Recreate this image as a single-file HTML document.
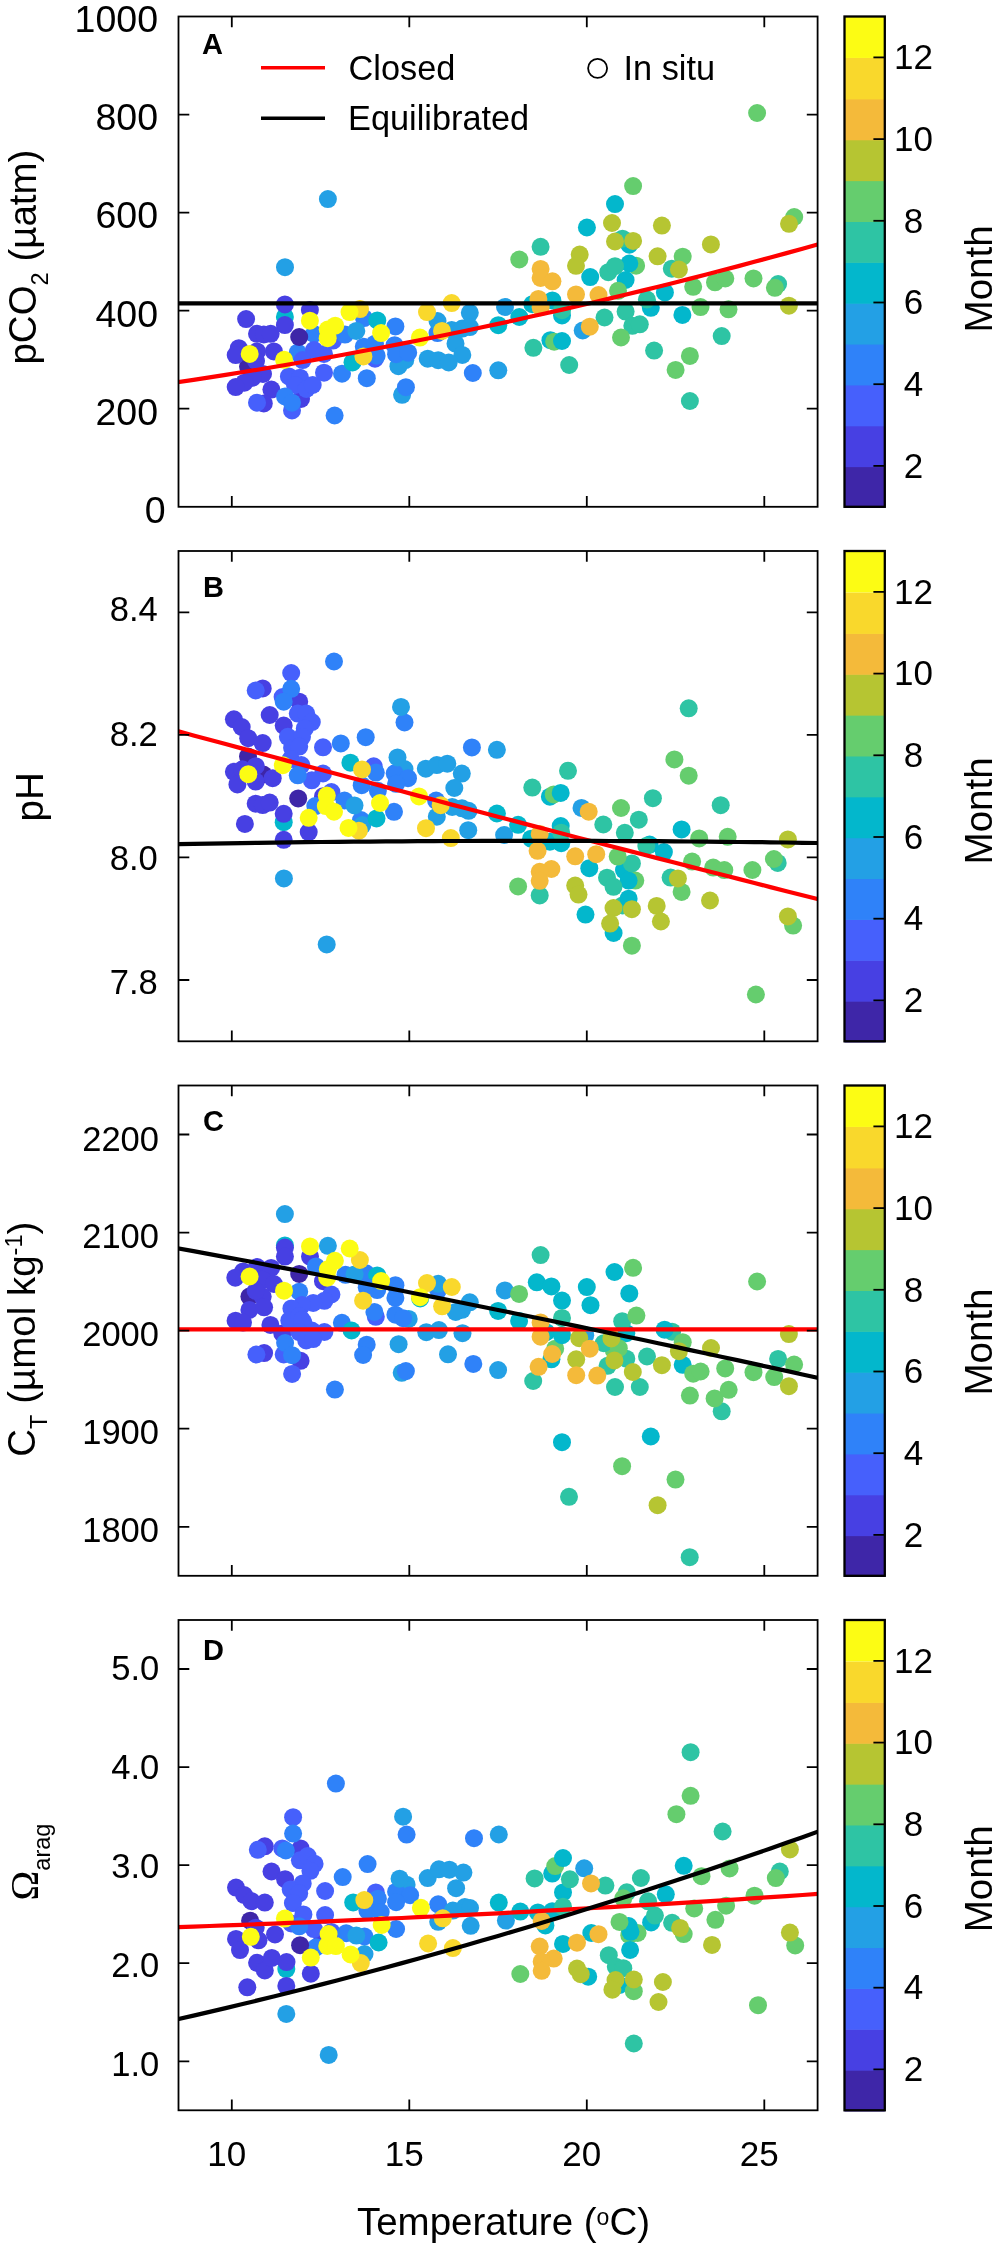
<!DOCTYPE html><html><head><meta charset="utf-8"><title>Figure</title><style>html,body{margin:0;padding:0;background:#fff}body{width:998px;height:2247px;overflow:hidden;font-family:"Liberation Sans",sans-serif}</style></head><body><svg width="998" height="2247" viewBox="0 0 998 2247" style="display:block;will-change:transform" font-family="Liberation Sans, sans-serif">
<rect width="998" height="2247" fill="#fff"/>
<g>
<clipPath id="cp0"><rect x="178.5" y="16.5" width="639.1" height="490.3"/></clipPath>
<circle cx="248.0" cy="366.5" r="9.0" fill="#3E26A8"/>
<circle cx="309.9" cy="310.0" r="9.0" fill="#4740E3"/>
<circle cx="333.0" cy="340.6" r="9.0" fill="#4660FC"/>
<circle cx="314.0" cy="334.0" r="9.0" fill="#2F82F9"/>
<circle cx="297.7" cy="352.6" r="9.0" fill="#2F82F9"/>
<circle cx="437.5" cy="333.1" r="9.0" fill="#2F82F9"/>
<circle cx="405.2" cy="360.2" r="9.0" fill="#23A0E5"/>
<circle cx="398.4" cy="366.2" r="9.0" fill="#23A0E5"/>
<circle cx="402.1" cy="394.8" r="9.0" fill="#23A0E5"/>
<circle cx="582.7" cy="330.5" r="9.0" fill="#23A0E5"/>
<circle cx="284.9" cy="316.9" r="9.0" fill="#03B7CC"/>
<circle cx="552.4" cy="300.4" r="9.0" fill="#03B7CC"/>
<circle cx="532.4" cy="304.2" r="9.0" fill="#03B7CC"/>
<circle cx="562.0" cy="315.4" r="9.0" fill="#03B7CC"/>
<circle cx="550.4" cy="340.2" r="9.0" fill="#03B7CC"/>
<circle cx="629.3" cy="244.7" r="9.0" fill="#03B7CC"/>
<circle cx="650.8" cy="307.8" r="9.0" fill="#03B7CC"/>
<circle cx="622.5" cy="238.7" r="9.0" fill="#2EC4A4"/>
<circle cx="671.8" cy="268.7" r="9.0" fill="#2EC4A4"/>
<circle cx="778.1" cy="284.0" r="9.0" fill="#2EC4A4"/>
<circle cx="636.1" cy="265.7" r="9.0" fill="#65CD6E"/>
<circle cx="794.2" cy="217.0" r="9.0" fill="#65CD6E"/>
<circle cx="299.2" cy="337.0" r="9.0" fill="#3E26A8"/>
<circle cx="284.9" cy="304.4" r="9.0" fill="#4740E3"/>
<circle cx="284.9" cy="325.1" r="9.0" fill="#4740E3"/>
<circle cx="246.1" cy="319.1" r="9.0" fill="#4740E3"/>
<circle cx="257.0" cy="333.8" r="9.0" fill="#4740E3"/>
<circle cx="263.8" cy="334.5" r="9.0" fill="#4740E3"/>
<circle cx="270.7" cy="333.8" r="9.0" fill="#4740E3"/>
<circle cx="238.8" cy="348.2" r="9.0" fill="#4740E3"/>
<circle cx="235.7" cy="355.1" r="9.0" fill="#4740E3"/>
<circle cx="257.0" cy="351.4" r="9.0" fill="#4740E3"/>
<circle cx="273.9" cy="351.4" r="9.0" fill="#4740E3"/>
<circle cx="256.0" cy="361.0" r="9.0" fill="#4740E3"/>
<circle cx="263.0" cy="374.0" r="9.0" fill="#4740E3"/>
<circle cx="252.6" cy="377.7" r="9.0" fill="#4740E3"/>
<circle cx="244.4" cy="382.7" r="9.0" fill="#4740E3"/>
<circle cx="235.7" cy="387.1" r="9.0" fill="#4740E3"/>
<circle cx="271.4" cy="389.6" r="9.0" fill="#4740E3"/>
<circle cx="263.8" cy="403.4" r="9.0" fill="#4740E3"/>
<circle cx="301.0" cy="399.0" r="9.0" fill="#4740E3"/>
<circle cx="314.0" cy="350.0" r="9.0" fill="#4660FC"/>
<circle cx="324.0" cy="353.9" r="9.0" fill="#4660FC"/>
<circle cx="302.7" cy="360.1" r="9.0" fill="#4660FC"/>
<circle cx="288.9" cy="376.4" r="9.0" fill="#4660FC"/>
<circle cx="300.0" cy="377.7" r="9.0" fill="#4660FC"/>
<circle cx="295.0" cy="385.0" r="9.0" fill="#4660FC"/>
<circle cx="306.4" cy="389.0" r="9.0" fill="#4660FC"/>
<circle cx="312.7" cy="385.0" r="9.0" fill="#4660FC"/>
<circle cx="324.0" cy="372.7" r="9.0" fill="#4660FC"/>
<circle cx="257.0" cy="402.7" r="9.0" fill="#4660FC"/>
<circle cx="292.0" cy="410.5" r="9.0" fill="#4660FC"/>
<circle cx="375.0" cy="358.7" r="9.0" fill="#4660FC"/>
<circle cx="285.0" cy="396.5" r="9.0" fill="#2F82F9"/>
<circle cx="292.0" cy="402.7" r="9.0" fill="#2F82F9"/>
<circle cx="334.6" cy="415.5" r="9.0" fill="#2F82F9"/>
<circle cx="345.0" cy="334.6" r="9.0" fill="#2F82F9"/>
<circle cx="364.0" cy="318.1" r="9.0" fill="#2F82F9"/>
<circle cx="395.4" cy="326.4" r="9.0" fill="#2F82F9"/>
<circle cx="363.8" cy="346.7" r="9.0" fill="#2F82F9"/>
<circle cx="375.0" cy="343.7" r="9.0" fill="#2F82F9"/>
<circle cx="376.6" cy="355.7" r="9.0" fill="#2F82F9"/>
<circle cx="394.6" cy="345.2" r="9.0" fill="#2F82F9"/>
<circle cx="396.1" cy="354.2" r="9.0" fill="#2F82F9"/>
<circle cx="408.2" cy="352.7" r="9.0" fill="#2F82F9"/>
<circle cx="342.0" cy="373.7" r="9.0" fill="#2F82F9"/>
<circle cx="366.8" cy="378.2" r="9.0" fill="#2F82F9"/>
<circle cx="405.9" cy="387.2" r="9.0" fill="#2F82F9"/>
<circle cx="472.8" cy="373.0" r="9.0" fill="#2F82F9"/>
<circle cx="327.9" cy="199.1" r="9.0" fill="#23A0E5"/>
<circle cx="285.0" cy="267.2" r="9.0" fill="#23A0E5"/>
<circle cx="356.3" cy="330.9" r="9.0" fill="#23A0E5"/>
<circle cx="437.5" cy="321.1" r="9.0" fill="#23A0E5"/>
<circle cx="469.8" cy="312.8" r="9.0" fill="#23A0E5"/>
<circle cx="451.7" cy="330.1" r="9.0" fill="#23A0E5"/>
<circle cx="462.3" cy="328.6" r="9.0" fill="#23A0E5"/>
<circle cx="469.8" cy="327.1" r="9.0" fill="#23A0E5"/>
<circle cx="455.5" cy="343.7" r="9.0" fill="#23A0E5"/>
<circle cx="462.3" cy="354.9" r="9.0" fill="#23A0E5"/>
<circle cx="427.7" cy="358.7" r="9.0" fill="#23A0E5"/>
<circle cx="438.2" cy="360.2" r="9.0" fill="#23A0E5"/>
<circle cx="448.7" cy="362.4" r="9.0" fill="#23A0E5"/>
<circle cx="505.0" cy="306.9" r="9.0" fill="#23A0E5"/>
<circle cx="498.3" cy="370.3" r="9.0" fill="#23A0E5"/>
<circle cx="377.3" cy="320.4" r="9.0" fill="#03B7CC"/>
<circle cx="352.5" cy="362.4" r="9.0" fill="#03B7CC"/>
<circle cx="586.9" cy="227.5" r="9.0" fill="#03B7CC"/>
<circle cx="590.2" cy="277.1" r="9.0" fill="#03B7CC"/>
<circle cx="519.3" cy="317.0" r="9.0" fill="#03B7CC"/>
<circle cx="498.3" cy="325.2" r="9.0" fill="#03B7CC"/>
<circle cx="615.0" cy="204.1" r="9.0" fill="#03B7CC"/>
<circle cx="629.3" cy="263.5" r="9.0" fill="#03B7CC"/>
<circle cx="625.6" cy="280.0" r="9.0" fill="#03B7CC"/>
<circle cx="664.9" cy="292.4" r="9.0" fill="#03B7CC"/>
<circle cx="682.4" cy="314.9" r="9.0" fill="#03B7CC"/>
<circle cx="540.6" cy="246.8" r="9.0" fill="#2EC4A4"/>
<circle cx="608.3" cy="272.2" r="9.0" fill="#2EC4A4"/>
<circle cx="615.0" cy="266.2" r="9.0" fill="#2EC4A4"/>
<circle cx="562.0" cy="310.2" r="9.0" fill="#2EC4A4"/>
<circle cx="604.5" cy="317.5" r="9.0" fill="#2EC4A4"/>
<circle cx="533.4" cy="347.8" r="9.0" fill="#2EC4A4"/>
<circle cx="569.2" cy="365.0" r="9.0" fill="#2EC4A4"/>
<circle cx="646.9" cy="299.5" r="9.0" fill="#2EC4A4"/>
<circle cx="625.6" cy="311.6" r="9.0" fill="#2EC4A4"/>
<circle cx="632.3" cy="325.8" r="9.0" fill="#2EC4A4"/>
<circle cx="639.8" cy="324.3" r="9.0" fill="#2EC4A4"/>
<circle cx="654.1" cy="350.6" r="9.0" fill="#2EC4A4"/>
<circle cx="721.7" cy="336.1" r="9.0" fill="#2EC4A4"/>
<circle cx="689.9" cy="401.0" r="9.0" fill="#2EC4A4"/>
<circle cx="519.3" cy="259.5" r="9.0" fill="#65CD6E"/>
<circle cx="618.0" cy="290.8" r="9.0" fill="#65CD6E"/>
<circle cx="621.0" cy="337.5" r="9.0" fill="#65CD6E"/>
<circle cx="554.2" cy="341.7" r="9.0" fill="#65CD6E"/>
<circle cx="633.1" cy="186.1" r="9.0" fill="#65CD6E"/>
<circle cx="682.7" cy="256.7" r="9.0" fill="#65CD6E"/>
<circle cx="693.2" cy="286.8" r="9.0" fill="#65CD6E"/>
<circle cx="715.0" cy="282.3" r="9.0" fill="#65CD6E"/>
<circle cx="725.3" cy="278.5" r="9.0" fill="#65CD6E"/>
<circle cx="753.5" cy="278.4" r="9.0" fill="#65CD6E"/>
<circle cx="700.5" cy="307.1" r="9.0" fill="#65CD6E"/>
<circle cx="728.5" cy="309.3" r="9.0" fill="#65CD6E"/>
<circle cx="689.9" cy="355.9" r="9.0" fill="#65CD6E"/>
<circle cx="675.6" cy="369.9" r="9.0" fill="#65CD6E"/>
<circle cx="757.1" cy="113.0" r="9.0" fill="#65CD6E"/>
<circle cx="774.9" cy="287.8" r="9.0" fill="#65CD6E"/>
<circle cx="612.0" cy="223.0" r="9.0" fill="#B6C532"/>
<circle cx="615.0" cy="241.5" r="9.0" fill="#B6C532"/>
<circle cx="579.7" cy="254.6" r="9.0" fill="#B6C532"/>
<circle cx="576.0" cy="265.8" r="9.0" fill="#B6C532"/>
<circle cx="661.9" cy="225.6" r="9.0" fill="#B6C532"/>
<circle cx="633.1" cy="240.9" r="9.0" fill="#B6C532"/>
<circle cx="710.9" cy="244.4" r="9.0" fill="#B6C532"/>
<circle cx="657.6" cy="256.3" r="9.0" fill="#B6C532"/>
<circle cx="678.9" cy="269.5" r="9.0" fill="#B6C532"/>
<circle cx="789.0" cy="223.8" r="9.0" fill="#B6C532"/>
<circle cx="788.9" cy="305.7" r="9.0" fill="#B6C532"/>
<circle cx="540.6" cy="268.9" r="9.0" fill="#F4BA3A"/>
<circle cx="540.6" cy="277.9" r="9.0" fill="#F4BA3A"/>
<circle cx="552.4" cy="281.3" r="9.0" fill="#F4BA3A"/>
<circle cx="576.0" cy="294.4" r="9.0" fill="#F4BA3A"/>
<circle cx="598.5" cy="295.0" r="9.0" fill="#F4BA3A"/>
<circle cx="538.4" cy="298.9" r="9.0" fill="#F4BA3A"/>
<circle cx="540.6" cy="307.2" r="9.0" fill="#F4BA3A"/>
<circle cx="589.8" cy="326.7" r="9.0" fill="#F4BA3A"/>
<circle cx="360.0" cy="309.1" r="9.0" fill="#F9D82C"/>
<circle cx="363.4" cy="356.4" r="9.0" fill="#F9D82C"/>
<circle cx="427.0" cy="312.1" r="9.0" fill="#F9D82C"/>
<circle cx="451.7" cy="303.1" r="9.0" fill="#F9D82C"/>
<circle cx="442.0" cy="330.9" r="9.0" fill="#F9D82C"/>
<circle cx="309.9" cy="320.7" r="9.0" fill="#FCFC14"/>
<circle cx="327.7" cy="329.5" r="9.0" fill="#FCFC14"/>
<circle cx="335.2" cy="325.7" r="9.0" fill="#FCFC14"/>
<circle cx="327.7" cy="338.2" r="9.0" fill="#FCFC14"/>
<circle cx="249.7" cy="353.9" r="9.0" fill="#FCFC14"/>
<circle cx="284.1" cy="359.8" r="9.0" fill="#FCFC14"/>
<circle cx="349.5" cy="312.1" r="9.0" fill="#FCFC14"/>
<circle cx="381.1" cy="333.1" r="9.0" fill="#FCFC14"/>
<circle cx="419.9" cy="337.6" r="9.0" fill="#FCFC14"/>
<circle cx="562.0" cy="341.0" r="9.0" fill="#03B7CC"/>
<path d="M177.5 382.3 L193.5 379.9 L209.6 377.4 L225.6 374.9 L241.6 372.3 L257.6 369.7 L273.6 367.0 L289.7 364.2 L305.7 361.5 L321.7 358.6 L337.8 355.7 L353.8 352.8 L369.8 349.8 L385.8 346.7 L401.9 343.6 L417.9 340.5 L433.9 337.2 L449.9 334.0 L465.9 330.7 L482.0 327.3 L498.0 323.9 L514.0 320.4 L530.0 316.8 L546.1 313.3 L562.1 309.6 L578.1 305.9 L594.1 302.2 L610.2 298.4 L626.2 294.5 L642.2 290.6 L658.2 286.7 L674.3 282.7 L690.3 278.6 L706.3 274.5 L722.4 270.3 L738.4 266.1 L754.4 261.8 L770.4 257.5 L786.5 253.1 L802.5 248.7 L818.5 244.2" fill="none" stroke="#f00" stroke-width="4.2" clip-path="url(#cp0)"/>
<path d="M177.5 303.4 L818.5 303.4" fill="none" stroke="#000" stroke-width="4.2" clip-path="url(#cp0)"/>
<rect x="178.5" y="16.5" width="639.1" height="490.3" fill="none" stroke="#000" stroke-width="1.8"/>
<path d="M231.8 16.5 v10.8 M231.8 506.8 v-10.8" stroke="#000" stroke-width="1.8"/>
<path d="M409.3 16.5 v10.8 M409.3 506.8 v-10.8" stroke="#000" stroke-width="1.8"/>
<path d="M586.8 16.5 v10.8 M586.8 506.8 v-10.8" stroke="#000" stroke-width="1.8"/>
<path d="M764.3 16.5 v10.8 M764.3 506.8 v-10.8" stroke="#000" stroke-width="1.8"/>
<text x="165.6" y="522.6" font-size="37.5" text-anchor="end">0</text>
<path d="M178.5 408.7 h10.8 M817.6 408.7 h-10.8" stroke="#000" stroke-width="1.8"/>
<text x="158" y="424.5" font-size="37.5" text-anchor="end">200</text>
<path d="M178.5 310.7 h10.8 M817.6 310.7 h-10.8" stroke="#000" stroke-width="1.8"/>
<text x="158" y="326.5" font-size="37.5" text-anchor="end">400</text>
<path d="M178.5 212.6 h10.8 M817.6 212.6 h-10.8" stroke="#000" stroke-width="1.8"/>
<text x="158" y="228.4" font-size="37.5" text-anchor="end">600</text>
<path d="M178.5 114.6 h10.8 M817.6 114.6 h-10.8" stroke="#000" stroke-width="1.8"/>
<text x="158" y="130.3" font-size="37.5" text-anchor="end">800</text>
<text x="158" y="32.3" font-size="37.5" text-anchor="end">1000</text>
<text x="202" y="53.7" font-size="29" font-weight="bold">A</text>
<rect x="844.5" y="466.54" width="40.299999999999955" height="41.46" fill="#3E26A8"/>
<rect x="844.5" y="425.68" width="40.299999999999955" height="41.46" fill="#4740E3"/>
<rect x="844.5" y="384.83" width="40.299999999999955" height="41.46" fill="#4660FC"/>
<rect x="844.5" y="343.97" width="40.299999999999955" height="41.46" fill="#2F82F9"/>
<rect x="844.5" y="303.11" width="40.299999999999955" height="41.46" fill="#23A0E5"/>
<rect x="844.5" y="262.25" width="40.299999999999955" height="41.46" fill="#03B7CC"/>
<rect x="844.5" y="221.39" width="40.299999999999955" height="41.46" fill="#2EC4A4"/>
<rect x="844.5" y="180.53" width="40.299999999999955" height="41.46" fill="#65CD6E"/>
<rect x="844.5" y="139.67" width="40.299999999999955" height="41.46" fill="#B6C532"/>
<rect x="844.5" y="98.82" width="40.299999999999955" height="41.46" fill="#F4BA3A"/>
<rect x="844.5" y="57.96" width="40.299999999999955" height="41.46" fill="#F9D82C"/>
<rect x="844.5" y="16.50" width="40.299999999999955" height="41.46" fill="#FCFC14"/>
<rect x="844.5" y="16.5" width="40.299999999999955" height="490.3" fill="none" stroke="#000" stroke-width="2.3"/>
<path d="M884.8 465.9 h-11.4" stroke="#000" stroke-width="1.8"/>
<text x="913.5" y="477.6" font-size="35" text-anchor="middle">2</text>
<path d="M884.8 384.2 h-11.4" stroke="#000" stroke-width="1.8"/>
<text x="913.5" y="395.9" font-size="35" text-anchor="middle">4</text>
<path d="M884.8 302.5 h-11.4" stroke="#000" stroke-width="1.8"/>
<text x="913.5" y="314.2" font-size="35" text-anchor="middle">6</text>
<path d="M884.8 220.8 h-11.4" stroke="#000" stroke-width="1.8"/>
<text x="913.5" y="232.5" font-size="35" text-anchor="middle">8</text>
<path d="M884.8 139.1 h-11.4" stroke="#000" stroke-width="1.8"/>
<text x="913.5" y="150.8" font-size="35" text-anchor="middle">10</text>
<path d="M884.8 57.4 h-11.4" stroke="#000" stroke-width="1.8"/>
<text x="913.5" y="69.1" font-size="35" text-anchor="middle">12</text>
<text transform="translate(991.7,278.9) rotate(-90)" font-size="38.5" text-anchor="middle">Month</text>
</g>
<g>
<clipPath id="cp1"><rect x="178.5" y="551.0" width="639.1" height="490.3"/></clipPath>
<circle cx="263.4" cy="774.5" r="9.0" fill="#3E26A8"/>
<circle cx="262.7" cy="688.4" r="9.0" fill="#4740E3"/>
<circle cx="299.2" cy="701.7" r="9.0" fill="#4740E3"/>
<circle cx="323.0" cy="796.3" r="9.0" fill="#4740E3"/>
<circle cx="282.6" cy="697.0" r="9.0" fill="#4660FC"/>
<circle cx="331.4" cy="792.1" r="9.0" fill="#4660FC"/>
<circle cx="373.7" cy="766.3" r="9.0" fill="#4660FC"/>
<circle cx="315.3" cy="806.1" r="9.0" fill="#2F82F9"/>
<circle cx="436.1" cy="800.6" r="9.0" fill="#2F82F9"/>
<circle cx="404.5" cy="769.1" r="9.0" fill="#23A0E5"/>
<circle cx="436.8" cy="816.7" r="9.0" fill="#23A0E5"/>
<circle cx="581.5" cy="807.9" r="9.0" fill="#23A0E5"/>
<circle cx="283.7" cy="822.2" r="9.0" fill="#03B7CC"/>
<circle cx="549.9" cy="796.7" r="9.0" fill="#03B7CC"/>
<circle cx="560.7" cy="826.0" r="9.0" fill="#03B7CC"/>
<circle cx="549.9" cy="841.7" r="9.0" fill="#03B7CC"/>
<circle cx="531.1" cy="838.7" r="9.0" fill="#03B7CC"/>
<circle cx="561.2" cy="843.2" r="9.0" fill="#03B7CC"/>
<circle cx="613.6" cy="933.0" r="9.0" fill="#03B7CC"/>
<circle cx="649.6" cy="844.6" r="9.0" fill="#03B7CC"/>
<circle cx="624.0" cy="870.1" r="9.0" fill="#03B7CC"/>
<circle cx="670.6" cy="877.6" r="9.0" fill="#2EC4A4"/>
<circle cx="622.5" cy="905.4" r="9.0" fill="#2EC4A4"/>
<circle cx="777.7" cy="862.9" r="9.0" fill="#2EC4A4"/>
<circle cx="635.3" cy="880.6" r="9.0" fill="#65CD6E"/>
<circle cx="793.1" cy="925.6" r="9.0" fill="#65CD6E"/>
<circle cx="248.0" cy="756.4" r="9.0" fill="#3E26A8"/>
<circle cx="298.2" cy="798.4" r="9.0" fill="#3E26A8"/>
<circle cx="269.7" cy="715.0" r="9.0" fill="#4740E3"/>
<circle cx="283.7" cy="725.6" r="9.0" fill="#4740E3"/>
<circle cx="233.9" cy="719.3" r="9.0" fill="#4740E3"/>
<circle cx="241.7" cy="727.0" r="9.0" fill="#4740E3"/>
<circle cx="248.2" cy="738.2" r="9.0" fill="#4740E3"/>
<circle cx="262.7" cy="743.1" r="9.0" fill="#4740E3"/>
<circle cx="255.7" cy="766.2" r="9.0" fill="#4740E3"/>
<circle cx="233.9" cy="771.8" r="9.0" fill="#4740E3"/>
<circle cx="242.4" cy="769.3" r="9.0" fill="#4740E3"/>
<circle cx="272.7" cy="778.2" r="9.0" fill="#4740E3"/>
<circle cx="237.4" cy="784.4" r="9.0" fill="#4740E3"/>
<circle cx="255.7" cy="781.6" r="9.0" fill="#4740E3"/>
<circle cx="255.7" cy="803.7" r="9.0" fill="#4740E3"/>
<circle cx="262.7" cy="805.1" r="9.0" fill="#4740E3"/>
<circle cx="269.7" cy="802.6" r="9.0" fill="#4740E3"/>
<circle cx="283.7" cy="813.8" r="9.0" fill="#4740E3"/>
<circle cx="244.9" cy="823.9" r="9.0" fill="#4740E3"/>
<circle cx="283.7" cy="839.8" r="9.0" fill="#4740E3"/>
<circle cx="308.7" cy="832.1" r="9.0" fill="#4740E3"/>
<circle cx="291.2" cy="673.0" r="9.0" fill="#4660FC"/>
<circle cx="255.7" cy="690.5" r="9.0" fill="#4660FC"/>
<circle cx="297.8" cy="713.6" r="9.0" fill="#4660FC"/>
<circle cx="306.2" cy="713.6" r="9.0" fill="#4660FC"/>
<circle cx="311.8" cy="722.1" r="9.0" fill="#4660FC"/>
<circle cx="304.8" cy="728.4" r="9.0" fill="#4660FC"/>
<circle cx="287.9" cy="736.8" r="9.0" fill="#4660FC"/>
<circle cx="302.0" cy="736.8" r="9.0" fill="#4660FC"/>
<circle cx="292.1" cy="748.0" r="9.0" fill="#4660FC"/>
<circle cx="299.2" cy="746.6" r="9.0" fill="#4660FC"/>
<circle cx="323.0" cy="747.3" r="9.0" fill="#4660FC"/>
<circle cx="290.7" cy="759.2" r="9.0" fill="#4660FC"/>
<circle cx="301.3" cy="765.1" r="9.0" fill="#4660FC"/>
<circle cx="323.0" cy="773.5" r="9.0" fill="#4660FC"/>
<circle cx="311.8" cy="780.3" r="9.0" fill="#4660FC"/>
<circle cx="334.0" cy="661.5" r="9.0" fill="#2F82F9"/>
<circle cx="291.2" cy="688.8" r="9.0" fill="#2F82F9"/>
<circle cx="283.7" cy="701.7" r="9.0" fill="#2F82F9"/>
<circle cx="340.8" cy="743.4" r="9.0" fill="#2F82F9"/>
<circle cx="297.8" cy="775.3" r="9.0" fill="#2F82F9"/>
<circle cx="344.5" cy="800.5" r="9.0" fill="#2F82F9"/>
<circle cx="404.5" cy="722.4" r="9.0" fill="#2F82F9"/>
<circle cx="365.7" cy="737.2" r="9.0" fill="#2F82F9"/>
<circle cx="471.9" cy="747.4" r="9.0" fill="#2F82F9"/>
<circle cx="375.8" cy="772.6" r="9.0" fill="#2F82F9"/>
<circle cx="394.7" cy="773.3" r="9.0" fill="#2F82F9"/>
<circle cx="408.0" cy="778.2" r="9.0" fill="#2F82F9"/>
<circle cx="396.1" cy="783.8" r="9.0" fill="#2F82F9"/>
<circle cx="361.7" cy="785.2" r="9.0" fill="#2F82F9"/>
<circle cx="377.9" cy="790.8" r="9.0" fill="#2F82F9"/>
<circle cx="394.0" cy="811.8" r="9.0" fill="#2F82F9"/>
<circle cx="361.0" cy="820.0" r="9.0" fill="#2F82F9"/>
<circle cx="354.5" cy="805.4" r="9.0" fill="#23A0E5"/>
<circle cx="283.9" cy="878.4" r="9.0" fill="#23A0E5"/>
<circle cx="326.7" cy="944.4" r="9.0" fill="#23A0E5"/>
<circle cx="401.0" cy="706.9" r="9.0" fill="#23A0E5"/>
<circle cx="397.5" cy="757.4" r="9.0" fill="#23A0E5"/>
<circle cx="425.8" cy="768.7" r="9.0" fill="#23A0E5"/>
<circle cx="436.8" cy="765.1" r="9.0" fill="#23A0E5"/>
<circle cx="447.3" cy="763.7" r="9.0" fill="#23A0E5"/>
<circle cx="461.8" cy="773.6" r="9.0" fill="#23A0E5"/>
<circle cx="454.3" cy="788.0" r="9.0" fill="#23A0E5"/>
<circle cx="452.2" cy="806.9" r="9.0" fill="#23A0E5"/>
<circle cx="462.0" cy="808.3" r="9.0" fill="#23A0E5"/>
<circle cx="468.6" cy="810.8" r="9.0" fill="#23A0E5"/>
<circle cx="362.4" cy="825.1" r="9.0" fill="#23A0E5"/>
<circle cx="468.2" cy="830.2" r="9.0" fill="#23A0E5"/>
<circle cx="496.9" cy="749.8" r="9.0" fill="#23A0E5"/>
<circle cx="504.1" cy="835.0" r="9.0" fill="#23A0E5"/>
<circle cx="350.4" cy="762.7" r="9.0" fill="#03B7CC"/>
<circle cx="376.5" cy="818.4" r="9.0" fill="#03B7CC"/>
<circle cx="496.9" cy="813.5" r="9.0" fill="#03B7CC"/>
<circle cx="518.1" cy="824.8" r="9.0" fill="#03B7CC"/>
<circle cx="589.3" cy="868.2" r="9.0" fill="#03B7CC"/>
<circle cx="585.5" cy="914.6" r="9.0" fill="#03B7CC"/>
<circle cx="681.6" cy="829.4" r="9.0" fill="#03B7CC"/>
<circle cx="663.9" cy="852.1" r="9.0" fill="#03B7CC"/>
<circle cx="628.6" cy="880.6" r="9.0" fill="#03B7CC"/>
<circle cx="628.6" cy="898.7" r="9.0" fill="#03B7CC"/>
<circle cx="568.0" cy="770.8" r="9.0" fill="#2EC4A4"/>
<circle cx="532.3" cy="787.6" r="9.0" fill="#2EC4A4"/>
<circle cx="603.3" cy="824.5" r="9.0" fill="#2EC4A4"/>
<circle cx="561.2" cy="832.7" r="9.0" fill="#2EC4A4"/>
<circle cx="539.7" cy="895.4" r="9.0" fill="#2EC4A4"/>
<circle cx="607.0" cy="877.7" r="9.0" fill="#2EC4A4"/>
<circle cx="613.5" cy="886.8" r="9.0" fill="#2EC4A4"/>
<circle cx="688.7" cy="708.3" r="9.0" fill="#2EC4A4"/>
<circle cx="652.9" cy="798.2" r="9.0" fill="#2EC4A4"/>
<circle cx="720.7" cy="805.2" r="9.0" fill="#2EC4A4"/>
<circle cx="638.8" cy="819.7" r="9.0" fill="#2EC4A4"/>
<circle cx="624.8" cy="832.8" r="9.0" fill="#2EC4A4"/>
<circle cx="646.3" cy="846.1" r="9.0" fill="#2EC4A4"/>
<circle cx="631.9" cy="863.4" r="9.0" fill="#2EC4A4"/>
<circle cx="553.7" cy="794.4" r="9.0" fill="#65CD6E"/>
<circle cx="518.1" cy="886.4" r="9.0" fill="#65CD6E"/>
<circle cx="674.4" cy="759.4" r="9.0" fill="#65CD6E"/>
<circle cx="688.7" cy="775.7" r="9.0" fill="#65CD6E"/>
<circle cx="621.0" cy="808.0" r="9.0" fill="#65CD6E"/>
<circle cx="699.2" cy="838.4" r="9.0" fill="#65CD6E"/>
<circle cx="727.7" cy="836.8" r="9.0" fill="#65CD6E"/>
<circle cx="617.7" cy="856.6" r="9.0" fill="#65CD6E"/>
<circle cx="692.1" cy="861.6" r="9.0" fill="#65CD6E"/>
<circle cx="713.2" cy="867.6" r="9.0" fill="#65CD6E"/>
<circle cx="724.3" cy="870.1" r="9.0" fill="#65CD6E"/>
<circle cx="752.4" cy="870.0" r="9.0" fill="#65CD6E"/>
<circle cx="681.6" cy="891.9" r="9.0" fill="#65CD6E"/>
<circle cx="631.9" cy="945.7" r="9.0" fill="#65CD6E"/>
<circle cx="773.9" cy="859.0" r="9.0" fill="#65CD6E"/>
<circle cx="755.9" cy="994.5" r="9.0" fill="#65CD6E"/>
<circle cx="575.2" cy="885.6" r="9.0" fill="#B6C532"/>
<circle cx="578.5" cy="894.6" r="9.0" fill="#B6C532"/>
<circle cx="613.5" cy="908.0" r="9.0" fill="#B6C532"/>
<circle cx="610.1" cy="923.6" r="9.0" fill="#B6C532"/>
<circle cx="677.9" cy="878.4" r="9.0" fill="#B6C532"/>
<circle cx="710.0" cy="900.5" r="9.0" fill="#B6C532"/>
<circle cx="631.9" cy="909.2" r="9.0" fill="#B6C532"/>
<circle cx="656.7" cy="905.9" r="9.0" fill="#B6C532"/>
<circle cx="660.9" cy="921.5" r="9.0" fill="#B6C532"/>
<circle cx="787.9" cy="839.4" r="9.0" fill="#B6C532"/>
<circle cx="787.9" cy="916.4" r="9.0" fill="#B6C532"/>
<circle cx="588.7" cy="811.7" r="9.0" fill="#F4BA3A"/>
<circle cx="539.7" cy="833.9" r="9.0" fill="#F4BA3A"/>
<circle cx="537.6" cy="850.8" r="9.0" fill="#F4BA3A"/>
<circle cx="575.2" cy="856.3" r="9.0" fill="#F4BA3A"/>
<circle cx="596.2" cy="854.2" r="9.0" fill="#F4BA3A"/>
<circle cx="551.4" cy="869.0" r="9.0" fill="#F4BA3A"/>
<circle cx="539.7" cy="871.8" r="9.0" fill="#F4BA3A"/>
<circle cx="539.7" cy="880.8" r="9.0" fill="#F4BA3A"/>
<circle cx="362.0" cy="769.4" r="9.0" fill="#F9D82C"/>
<circle cx="440.7" cy="805.2" r="9.0" fill="#F9D82C"/>
<circle cx="358.9" cy="830.7" r="9.0" fill="#F9D82C"/>
<circle cx="426.0" cy="828.2" r="9.0" fill="#F9D82C"/>
<circle cx="450.8" cy="838.1" r="9.0" fill="#F9D82C"/>
<circle cx="248.3" cy="774.2" r="9.0" fill="#FCFC14"/>
<circle cx="282.8" cy="765.2" r="9.0" fill="#FCFC14"/>
<circle cx="308.7" cy="817.8" r="9.0" fill="#FCFC14"/>
<circle cx="326.8" cy="795.6" r="9.0" fill="#FCFC14"/>
<circle cx="325.8" cy="806.1" r="9.0" fill="#FCFC14"/>
<circle cx="334.0" cy="811.7" r="9.0" fill="#FCFC14"/>
<circle cx="348.5" cy="827.9" r="9.0" fill="#FCFC14"/>
<circle cx="419.0" cy="796.4" r="9.0" fill="#FCFC14"/>
<circle cx="380.0" cy="803.0" r="9.0" fill="#FCFC14"/>
<circle cx="560.7" cy="792.9" r="9.0" fill="#03B7CC"/>
<path d="M177.5 731.0 L193.5 735.4 L209.6 739.7 L225.6 744.1 L241.6 748.4 L257.6 752.7 L273.6 757.0 L289.7 761.4 L305.7 765.7 L321.7 770.0 L337.8 774.3 L353.8 778.5 L369.8 782.8 L385.8 787.1 L401.9 791.3 L417.9 795.6 L433.9 799.8 L449.9 804.1 L465.9 808.3 L482.0 812.5 L498.0 816.7 L514.0 820.9 L530.0 825.1 L546.1 829.3 L562.1 833.5 L578.1 837.7 L594.1 841.8 L610.2 846.0 L626.2 850.1 L642.2 854.3 L658.2 858.4 L674.3 862.5 L690.3 866.6 L706.3 870.7 L722.4 874.8 L738.4 878.9 L754.4 883.0 L770.4 887.1 L786.5 891.2 L802.5 895.2 L818.5 899.3" fill="none" stroke="#f00" stroke-width="4.2" clip-path="url(#cp1)"/>
<path d="M177.5 844.2 L193.5 843.9 L209.6 843.7 L225.6 843.4 L241.6 843.1 L257.6 842.9 L273.6 842.7 L289.7 842.4 L305.7 842.2 L321.7 842.0 L337.8 841.9 L353.8 841.7 L369.8 841.6 L385.8 841.4 L401.9 841.3 L417.9 841.2 L433.9 841.1 L449.9 841.0 L465.9 841.0 L482.0 840.9 L498.0 840.9 L514.0 840.8 L530.0 840.8 L546.1 840.8 L562.1 840.9 L578.1 840.9 L594.1 840.9 L610.2 841.0 L626.2 841.1 L642.2 841.1 L658.2 841.2 L674.3 841.4 L690.3 841.5 L706.3 841.6 L722.4 841.8 L738.4 842.0 L754.4 842.1 L770.4 842.3 L786.5 842.5 L802.5 842.8 L818.5 843.0" fill="none" stroke="#000" stroke-width="4.2" clip-path="url(#cp1)"/>
<rect x="178.5" y="551.0" width="639.1" height="490.3" fill="none" stroke="#000" stroke-width="1.8"/>
<path d="M231.8 551.0 v10.8 M231.8 1041.3 v-10.8" stroke="#000" stroke-width="1.8"/>
<path d="M409.3 551.0 v10.8 M409.3 1041.3 v-10.8" stroke="#000" stroke-width="1.8"/>
<path d="M586.8 551.0 v10.8 M586.8 1041.3 v-10.8" stroke="#000" stroke-width="1.8"/>
<path d="M764.3 551.0 v10.8 M764.3 1041.3 v-10.8" stroke="#000" stroke-width="1.8"/>
<path d="M178.5 980.0 h10.8 M817.6 980.0 h-10.8" stroke="#000" stroke-width="1.8"/>
<text x="157.8" y="993.7" font-size="34.6" text-anchor="end">7.8</text>
<path d="M178.5 857.4 h10.8 M817.6 857.4 h-10.8" stroke="#000" stroke-width="1.8"/>
<text x="157.8" y="869.6" font-size="34.6" text-anchor="end">8.0</text>
<path d="M178.5 734.9 h10.8 M817.6 734.9 h-10.8" stroke="#000" stroke-width="1.8"/>
<text x="157.8" y="745.5" font-size="34.6" text-anchor="end">8.2</text>
<path d="M178.5 612.3 h10.8 M817.6 612.3 h-10.8" stroke="#000" stroke-width="1.8"/>
<text x="157.8" y="621.3" font-size="34.6" text-anchor="end">8.4</text>
<text x="203" y="596.6" font-size="29" font-weight="bold">B</text>
<rect x="844.5" y="1001.04" width="40.299999999999955" height="41.46" fill="#3E26A8"/>
<rect x="844.5" y="960.18" width="40.299999999999955" height="41.46" fill="#4740E3"/>
<rect x="844.5" y="919.32" width="40.299999999999955" height="41.46" fill="#4660FC"/>
<rect x="844.5" y="878.47" width="40.299999999999955" height="41.46" fill="#2F82F9"/>
<rect x="844.5" y="837.61" width="40.299999999999955" height="41.46" fill="#23A0E5"/>
<rect x="844.5" y="796.75" width="40.299999999999955" height="41.46" fill="#03B7CC"/>
<rect x="844.5" y="755.89" width="40.299999999999955" height="41.46" fill="#2EC4A4"/>
<rect x="844.5" y="715.03" width="40.299999999999955" height="41.46" fill="#65CD6E"/>
<rect x="844.5" y="674.17" width="40.299999999999955" height="41.46" fill="#B6C532"/>
<rect x="844.5" y="633.32" width="40.299999999999955" height="41.46" fill="#F4BA3A"/>
<rect x="844.5" y="592.46" width="40.299999999999955" height="41.46" fill="#F9D82C"/>
<rect x="844.5" y="551.00" width="40.299999999999955" height="41.46" fill="#FCFC14"/>
<rect x="844.5" y="551.0" width="40.299999999999955" height="490.3" fill="none" stroke="#000" stroke-width="2.3"/>
<path d="M884.8 1000.4 h-11.4" stroke="#000" stroke-width="1.8"/>
<text x="913.5" y="1012.1" font-size="35" text-anchor="middle">2</text>
<path d="M884.8 918.7 h-11.4" stroke="#000" stroke-width="1.8"/>
<text x="913.5" y="930.4" font-size="35" text-anchor="middle">4</text>
<path d="M884.8 837.0 h-11.4" stroke="#000" stroke-width="1.8"/>
<text x="913.5" y="848.7" font-size="35" text-anchor="middle">6</text>
<path d="M884.8 755.3 h-11.4" stroke="#000" stroke-width="1.8"/>
<text x="913.5" y="767.0" font-size="35" text-anchor="middle">8</text>
<path d="M884.8 673.6 h-11.4" stroke="#000" stroke-width="1.8"/>
<text x="913.5" y="685.3" font-size="35" text-anchor="middle">10</text>
<path d="M884.8 591.9 h-11.4" stroke="#000" stroke-width="1.8"/>
<text x="913.5" y="603.6" font-size="35" text-anchor="middle">12</text>
<text transform="translate(991.7,810.9) rotate(-90)" font-size="38.5" text-anchor="middle">Month</text>
</g>
<g>
<clipPath id="cp2"><rect x="178.5" y="1085.5" width="639.1" height="490.3"/></clipPath>
<circle cx="265.8" cy="1278.7" r="9.0" fill="#3E26A8"/>
<circle cx="310.0" cy="1256.6" r="9.0" fill="#4740E3"/>
<circle cx="323.0" cy="1281.2" r="9.0" fill="#4740E3"/>
<circle cx="282.3" cy="1333.5" r="9.0" fill="#4740E3"/>
<circle cx="300.6" cy="1360.8" r="9.0" fill="#4740E3"/>
<circle cx="264.1" cy="1353.1" r="9.0" fill="#4740E3"/>
<circle cx="283.7" cy="1354.5" r="9.0" fill="#4660FC"/>
<circle cx="375.8" cy="1316.8" r="9.0" fill="#4660FC"/>
<circle cx="316.0" cy="1266.4" r="9.0" fill="#2F82F9"/>
<circle cx="299.2" cy="1291.7" r="9.0" fill="#2F82F9"/>
<circle cx="366.0" cy="1273.3" r="9.0" fill="#2F82F9"/>
<circle cx="438.2" cy="1290.1" r="9.0" fill="#2F82F9"/>
<circle cx="408.7" cy="1318.9" r="9.0" fill="#23A0E5"/>
<circle cx="438.2" cy="1283.8" r="9.0" fill="#23A0E5"/>
<circle cx="401.7" cy="1372.8" r="9.0" fill="#23A0E5"/>
<circle cx="585.2" cy="1335.2" r="9.0" fill="#23A0E5"/>
<circle cx="284.9" cy="1245.4" r="9.0" fill="#03B7CC"/>
<circle cx="377.2" cy="1275.4" r="9.0" fill="#03B7CC"/>
<circle cx="420.2" cy="1298.4" r="9.0" fill="#03B7CC"/>
<circle cx="546.2" cy="1332.2" r="9.0" fill="#03B7CC"/>
<circle cx="551.4" cy="1359.3" r="9.0" fill="#03B7CC"/>
<circle cx="626.3" cy="1333.2" r="9.0" fill="#03B7CC"/>
<circle cx="682.7" cy="1364.8" r="9.0" fill="#03B7CC"/>
<circle cx="607.6" cy="1365.8" r="9.0" fill="#2EC4A4"/>
<circle cx="672.1" cy="1331.7" r="9.0" fill="#2EC4A4"/>
<circle cx="721.7" cy="1411.3" r="9.0" fill="#2EC4A4"/>
<circle cx="555.2" cy="1348.7" r="9.0" fill="#65CD6E"/>
<circle cx="613.8" cy="1350.2" r="9.0" fill="#65CD6E"/>
<circle cx="299.2" cy="1273.9" r="9.0" fill="#3E26A8"/>
<circle cx="249.4" cy="1296.6" r="9.0" fill="#3E26A8"/>
<circle cx="284.9" cy="1247.5" r="9.0" fill="#4740E3"/>
<circle cx="284.9" cy="1256.6" r="9.0" fill="#4740E3"/>
<circle cx="257.1" cy="1267.1" r="9.0" fill="#4740E3"/>
<circle cx="271.1" cy="1267.9" r="9.0" fill="#4740E3"/>
<circle cx="243.1" cy="1271.4" r="9.0" fill="#4740E3"/>
<circle cx="235.3" cy="1277.7" r="9.0" fill="#4740E3"/>
<circle cx="262.7" cy="1279.8" r="9.0" fill="#4740E3"/>
<circle cx="273.9" cy="1284.0" r="9.0" fill="#4740E3"/>
<circle cx="262.7" cy="1296.6" r="9.0" fill="#4740E3"/>
<circle cx="255.7" cy="1291.0" r="9.0" fill="#4740E3"/>
<circle cx="249.4" cy="1309.9" r="9.0" fill="#4740E3"/>
<circle cx="264.1" cy="1307.3" r="9.0" fill="#4740E3"/>
<circle cx="235.6" cy="1320.7" r="9.0" fill="#4740E3"/>
<circle cx="243.0" cy="1322.6" r="9.0" fill="#4740E3"/>
<circle cx="270.4" cy="1324.9" r="9.0" fill="#4740E3"/>
<circle cx="331.4" cy="1294.5" r="9.0" fill="#4660FC"/>
<circle cx="324.4" cy="1300.8" r="9.0" fill="#4660FC"/>
<circle cx="313.2" cy="1302.9" r="9.0" fill="#4660FC"/>
<circle cx="302.0" cy="1305.0" r="9.0" fill="#4660FC"/>
<circle cx="291.4" cy="1308.4" r="9.0" fill="#4660FC"/>
<circle cx="289.3" cy="1320.4" r="9.0" fill="#4660FC"/>
<circle cx="299.2" cy="1316.2" r="9.0" fill="#4660FC"/>
<circle cx="303.4" cy="1322.6" r="9.0" fill="#4660FC"/>
<circle cx="311.8" cy="1330.5" r="9.0" fill="#4660FC"/>
<circle cx="324.4" cy="1332.0" r="9.0" fill="#4660FC"/>
<circle cx="302.0" cy="1320.2" r="9.0" fill="#4660FC"/>
<circle cx="299.2" cy="1332.1" r="9.0" fill="#4660FC"/>
<circle cx="306.2" cy="1340.5" r="9.0" fill="#4660FC"/>
<circle cx="313.2" cy="1339.1" r="9.0" fill="#4660FC"/>
<circle cx="292.1" cy="1373.9" r="9.0" fill="#4660FC"/>
<circle cx="256.4" cy="1354.5" r="9.0" fill="#4660FC"/>
<circle cx="345.5" cy="1274.8" r="9.0" fill="#2F82F9"/>
<circle cx="341.9" cy="1322.8" r="9.0" fill="#2F82F9"/>
<circle cx="285.1" cy="1343.0" r="9.0" fill="#2F82F9"/>
<circle cx="292.1" cy="1355.2" r="9.0" fill="#2F82F9"/>
<circle cx="334.9" cy="1389.6" r="9.0" fill="#2F82F9"/>
<circle cx="395.4" cy="1285.2" r="9.0" fill="#2F82F9"/>
<circle cx="366.7" cy="1287.3" r="9.0" fill="#2F82F9"/>
<circle cx="377.2" cy="1290.1" r="9.0" fill="#2F82F9"/>
<circle cx="395.4" cy="1297.9" r="9.0" fill="#2F82F9"/>
<circle cx="374.4" cy="1311.9" r="9.0" fill="#2F82F9"/>
<circle cx="395.4" cy="1314.7" r="9.0" fill="#2F82F9"/>
<circle cx="403.1" cy="1318.2" r="9.0" fill="#2F82F9"/>
<circle cx="366.7" cy="1344.7" r="9.0" fill="#2F82F9"/>
<circle cx="363.1" cy="1355.0" r="9.0" fill="#2F82F9"/>
<circle cx="473.3" cy="1363.9" r="9.0" fill="#2F82F9"/>
<circle cx="405.9" cy="1371.1" r="9.0" fill="#2F82F9"/>
<circle cx="284.9" cy="1214.1" r="9.0" fill="#23A0E5"/>
<circle cx="327.9" cy="1245.8" r="9.0" fill="#23A0E5"/>
<circle cx="354.6" cy="1274.4" r="9.0" fill="#23A0E5"/>
<circle cx="469.8" cy="1302.3" r="9.0" fill="#23A0E5"/>
<circle cx="462.0" cy="1309.8" r="9.0" fill="#23A0E5"/>
<circle cx="455.7" cy="1311.9" r="9.0" fill="#23A0E5"/>
<circle cx="426.3" cy="1332.2" r="9.0" fill="#23A0E5"/>
<circle cx="438.9" cy="1330.1" r="9.0" fill="#23A0E5"/>
<circle cx="462.5" cy="1333.2" r="9.0" fill="#23A0E5"/>
<circle cx="398.6" cy="1344.2" r="9.0" fill="#23A0E5"/>
<circle cx="448.0" cy="1354.3" r="9.0" fill="#23A0E5"/>
<circle cx="504.8" cy="1290.4" r="9.0" fill="#23A0E5"/>
<circle cx="498.1" cy="1370.1" r="9.0" fill="#23A0E5"/>
<circle cx="351.6" cy="1330.5" r="9.0" fill="#03B7CC"/>
<circle cx="536.8" cy="1282.3" r="9.0" fill="#03B7CC"/>
<circle cx="551.4" cy="1286.4" r="9.0" fill="#03B7CC"/>
<circle cx="562.0" cy="1300.6" r="9.0" fill="#03B7CC"/>
<circle cx="586.8" cy="1287.1" r="9.0" fill="#03B7CC"/>
<circle cx="590.5" cy="1305.2" r="9.0" fill="#03B7CC"/>
<circle cx="614.5" cy="1272.0" r="9.0" fill="#03B7CC"/>
<circle cx="498.1" cy="1310.9" r="9.0" fill="#03B7CC"/>
<circle cx="519.1" cy="1320.9" r="9.0" fill="#03B7CC"/>
<circle cx="562.0" cy="1335.2" r="9.0" fill="#03B7CC"/>
<circle cx="562.0" cy="1442.2" r="9.0" fill="#03B7CC"/>
<circle cx="629.3" cy="1293.4" r="9.0" fill="#03B7CC"/>
<circle cx="664.6" cy="1329.7" r="9.0" fill="#03B7CC"/>
<circle cx="650.8" cy="1436.5" r="9.0" fill="#03B7CC"/>
<circle cx="540.6" cy="1255.1" r="9.0" fill="#2EC4A4"/>
<circle cx="562.0" cy="1317.9" r="9.0" fill="#2EC4A4"/>
<circle cx="603.8" cy="1343.2" r="9.0" fill="#2EC4A4"/>
<circle cx="533.2" cy="1381.0" r="9.0" fill="#2EC4A4"/>
<circle cx="569.0" cy="1496.8" r="9.0" fill="#2EC4A4"/>
<circle cx="622.2" cy="1321.2" r="9.0" fill="#2EC4A4"/>
<circle cx="626.3" cy="1358.7" r="9.0" fill="#2EC4A4"/>
<circle cx="647.0" cy="1356.5" r="9.0" fill="#2EC4A4"/>
<circle cx="615.0" cy="1387.0" r="9.0" fill="#2EC4A4"/>
<circle cx="639.8" cy="1387.0" r="9.0" fill="#2EC4A4"/>
<circle cx="778.1" cy="1358.9" r="9.0" fill="#2EC4A4"/>
<circle cx="689.7" cy="1557.2" r="9.0" fill="#2EC4A4"/>
<circle cx="519.1" cy="1293.9" r="9.0" fill="#65CD6E"/>
<circle cx="633.1" cy="1267.8" r="9.0" fill="#65CD6E"/>
<circle cx="636.4" cy="1315.6" r="9.0" fill="#65CD6E"/>
<circle cx="682.7" cy="1342.2" r="9.0" fill="#65CD6E"/>
<circle cx="618.8" cy="1348.2" r="9.0" fill="#65CD6E"/>
<circle cx="693.2" cy="1373.7" r="9.0" fill="#65CD6E"/>
<circle cx="700.6" cy="1371.5" r="9.0" fill="#65CD6E"/>
<circle cx="725.2" cy="1368.4" r="9.0" fill="#65CD6E"/>
<circle cx="753.5" cy="1372.2" r="9.0" fill="#65CD6E"/>
<circle cx="689.9" cy="1395.6" r="9.0" fill="#65CD6E"/>
<circle cx="714.6" cy="1398.4" r="9.0" fill="#65CD6E"/>
<circle cx="728.7" cy="1389.8" r="9.0" fill="#65CD6E"/>
<circle cx="622.1" cy="1466.2" r="9.0" fill="#65CD6E"/>
<circle cx="675.5" cy="1479.6" r="9.0" fill="#65CD6E"/>
<circle cx="757.1" cy="1281.5" r="9.0" fill="#65CD6E"/>
<circle cx="794.1" cy="1364.5" r="9.0" fill="#65CD6E"/>
<circle cx="774.2" cy="1377.1" r="9.0" fill="#65CD6E"/>
<circle cx="579.2" cy="1338.2" r="9.0" fill="#B6C532"/>
<circle cx="611.4" cy="1338.4" r="9.0" fill="#B6C532"/>
<circle cx="576.2" cy="1359.3" r="9.0" fill="#B6C532"/>
<circle cx="614.4" cy="1360.5" r="9.0" fill="#B6C532"/>
<circle cx="678.9" cy="1351.2" r="9.0" fill="#B6C532"/>
<circle cx="711.0" cy="1348.0" r="9.0" fill="#B6C532"/>
<circle cx="661.9" cy="1365.2" r="9.0" fill="#B6C532"/>
<circle cx="632.8" cy="1372.0" r="9.0" fill="#B6C532"/>
<circle cx="657.6" cy="1505.2" r="9.0" fill="#B6C532"/>
<circle cx="788.9" cy="1334.1" r="9.0" fill="#B6C532"/>
<circle cx="788.9" cy="1386.2" r="9.0" fill="#B6C532"/>
<circle cx="540.6" cy="1322.4" r="9.0" fill="#F4BA3A"/>
<circle cx="540.6" cy="1336.7" r="9.0" fill="#F4BA3A"/>
<circle cx="589.8" cy="1348.7" r="9.0" fill="#F4BA3A"/>
<circle cx="552.2" cy="1354.0" r="9.0" fill="#F4BA3A"/>
<circle cx="538.6" cy="1366.8" r="9.0" fill="#F4BA3A"/>
<circle cx="576.2" cy="1375.2" r="9.0" fill="#F4BA3A"/>
<circle cx="597.3" cy="1375.6" r="9.0" fill="#F4BA3A"/>
<circle cx="359.9" cy="1260.0" r="9.0" fill="#F9D82C"/>
<circle cx="363.1" cy="1300.7" r="9.0" fill="#F9D82C"/>
<circle cx="427.0" cy="1283.1" r="9.0" fill="#F9D82C"/>
<circle cx="451.8" cy="1287.0" r="9.0" fill="#F9D82C"/>
<circle cx="442.1" cy="1306.3" r="9.0" fill="#F9D82C"/>
<circle cx="310.0" cy="1246.4" r="9.0" fill="#FCFC14"/>
<circle cx="349.7" cy="1248.5" r="9.0" fill="#FCFC14"/>
<circle cx="334.9" cy="1260.8" r="9.0" fill="#FCFC14"/>
<circle cx="327.9" cy="1269.3" r="9.0" fill="#FCFC14"/>
<circle cx="327.2" cy="1277.7" r="9.0" fill="#FCFC14"/>
<circle cx="249.6" cy="1276.5" r="9.0" fill="#FCFC14"/>
<circle cx="284.0" cy="1290.7" r="9.0" fill="#FCFC14"/>
<circle cx="381.1" cy="1281.0" r="9.0" fill="#FCFC14"/>
<circle cx="420.0" cy="1297.2" r="9.0" fill="#FCFC14"/>
<path d="M177.5 1329.4 L818.5 1329.4" fill="none" stroke="#f00" stroke-width="4.2" clip-path="url(#cp2)"/>
<path d="M177.5 1248.2 L193.5 1251.1 L209.6 1254.1 L225.6 1257.1 L241.6 1260.0 L257.6 1263.0 L273.6 1266.1 L289.7 1269.1 L305.7 1272.2 L321.7 1275.2 L337.8 1278.3 L353.8 1281.4 L369.8 1284.5 L385.8 1287.6 L401.9 1290.8 L417.9 1294.0 L433.9 1297.1 L449.9 1300.3 L465.9 1303.5 L482.0 1306.7 L498.0 1310.0 L514.0 1313.2 L530.0 1316.5 L546.1 1319.8 L562.1 1323.1 L578.1 1326.4 L594.1 1329.7 L610.2 1333.1 L626.2 1336.5 L642.2 1339.8 L658.2 1343.2 L674.3 1346.6 L690.3 1350.1 L706.3 1353.5 L722.4 1357.0 L738.4 1360.4 L754.4 1363.9 L770.4 1367.4 L786.5 1370.9 L802.5 1374.5 L818.5 1378.0" fill="none" stroke="#000" stroke-width="4.2" clip-path="url(#cp2)"/>
<rect x="178.5" y="1085.5" width="639.1" height="490.3" fill="none" stroke="#000" stroke-width="1.8"/>
<path d="M231.8 1085.5 v10.8 M231.8 1575.8 v-10.8" stroke="#000" stroke-width="1.8"/>
<path d="M409.3 1085.5 v10.8 M409.3 1575.8 v-10.8" stroke="#000" stroke-width="1.8"/>
<path d="M586.8 1085.5 v10.8 M586.8 1575.8 v-10.8" stroke="#000" stroke-width="1.8"/>
<path d="M764.3 1085.5 v10.8 M764.3 1575.8 v-10.8" stroke="#000" stroke-width="1.8"/>
<path d="M178.5 1526.8 h10.8 M817.6 1526.8 h-10.8" stroke="#000" stroke-width="1.8"/>
<text x="159" y="1541.7" font-size="34.5" text-anchor="end">1800</text>
<path d="M178.5 1428.7 h10.8 M817.6 1428.7 h-10.8" stroke="#000" stroke-width="1.8"/>
<text x="159" y="1443.9" font-size="34.5" text-anchor="end">1900</text>
<path d="M178.5 1330.6 h10.8 M817.6 1330.6 h-10.8" stroke="#000" stroke-width="1.8"/>
<text x="159" y="1346.1" font-size="34.5" text-anchor="end">2000</text>
<path d="M178.5 1232.6 h10.8 M817.6 1232.6 h-10.8" stroke="#000" stroke-width="1.8"/>
<text x="159" y="1248.3" font-size="34.5" text-anchor="end">2100</text>
<path d="M178.5 1134.5 h10.8 M817.6 1134.5 h-10.8" stroke="#000" stroke-width="1.8"/>
<text x="159" y="1150.5" font-size="34.5" text-anchor="end">2200</text>
<text x="203" y="1130.8" font-size="29" font-weight="bold">C</text>
<rect x="844.5" y="1535.54" width="40.299999999999955" height="41.46" fill="#3E26A8"/>
<rect x="844.5" y="1494.68" width="40.299999999999955" height="41.46" fill="#4740E3"/>
<rect x="844.5" y="1453.82" width="40.299999999999955" height="41.46" fill="#4660FC"/>
<rect x="844.5" y="1412.97" width="40.299999999999955" height="41.46" fill="#2F82F9"/>
<rect x="844.5" y="1372.11" width="40.299999999999955" height="41.46" fill="#23A0E5"/>
<rect x="844.5" y="1331.25" width="40.299999999999955" height="41.46" fill="#03B7CC"/>
<rect x="844.5" y="1290.39" width="40.299999999999955" height="41.46" fill="#2EC4A4"/>
<rect x="844.5" y="1249.53" width="40.299999999999955" height="41.46" fill="#65CD6E"/>
<rect x="844.5" y="1208.67" width="40.299999999999955" height="41.46" fill="#B6C532"/>
<rect x="844.5" y="1167.82" width="40.299999999999955" height="41.46" fill="#F4BA3A"/>
<rect x="844.5" y="1126.96" width="40.299999999999955" height="41.46" fill="#F9D82C"/>
<rect x="844.5" y="1085.50" width="40.299999999999955" height="41.46" fill="#FCFC14"/>
<rect x="844.5" y="1085.5" width="40.299999999999955" height="490.3" fill="none" stroke="#000" stroke-width="2.3"/>
<path d="M884.8 1534.9 h-11.4" stroke="#000" stroke-width="1.8"/>
<text x="913.5" y="1546.6" font-size="35" text-anchor="middle">2</text>
<path d="M884.8 1453.2 h-11.4" stroke="#000" stroke-width="1.8"/>
<text x="913.5" y="1464.9" font-size="35" text-anchor="middle">4</text>
<path d="M884.8 1371.5 h-11.4" stroke="#000" stroke-width="1.8"/>
<text x="913.5" y="1383.2" font-size="35" text-anchor="middle">6</text>
<path d="M884.8 1289.8 h-11.4" stroke="#000" stroke-width="1.8"/>
<text x="913.5" y="1301.5" font-size="35" text-anchor="middle">8</text>
<path d="M884.8 1208.1 h-11.4" stroke="#000" stroke-width="1.8"/>
<text x="913.5" y="1219.8" font-size="35" text-anchor="middle">10</text>
<path d="M884.8 1126.4 h-11.4" stroke="#000" stroke-width="1.8"/>
<text x="913.5" y="1138.1" font-size="35" text-anchor="middle">12</text>
<text transform="translate(991.7,1342.1) rotate(-90)" font-size="38.5" text-anchor="middle">Month</text>
</g>
<g>
<clipPath id="cp3"><rect x="178.5" y="1620.0" width="639.1" height="490.3"/></clipPath>
<circle cx="250.1" cy="1920.7" r="9.0" fill="#3E26A8"/>
<circle cx="264.8" cy="1846.3" r="9.0" fill="#4740E3"/>
<circle cx="300.6" cy="1848.4" r="9.0" fill="#4740E3"/>
<circle cx="322.3" cy="1938.9" r="9.0" fill="#4740E3"/>
<circle cx="282.3" cy="1848.4" r="9.0" fill="#4660FC"/>
<circle cx="331.4" cy="1931.9" r="9.0" fill="#4660FC"/>
<circle cx="375.8" cy="1892.4" r="9.0" fill="#4660FC"/>
<circle cx="316.0" cy="1947.3" r="9.0" fill="#2F82F9"/>
<circle cx="406.6" cy="1884.7" r="9.0" fill="#23A0E5"/>
<circle cx="438.2" cy="1921.8" r="9.0" fill="#23A0E5"/>
<circle cx="286.3" cy="1969.1" r="9.0" fill="#03B7CC"/>
<circle cx="552.2" cy="1873.6" r="9.0" fill="#03B7CC"/>
<circle cx="545.4" cy="1925.4" r="9.0" fill="#03B7CC"/>
<circle cx="591.3" cy="1933.0" r="9.0" fill="#03B7CC"/>
<circle cx="588.2" cy="1976.7" r="9.0" fill="#03B7CC"/>
<circle cx="651.1" cy="1922.4" r="9.0" fill="#03B7CC"/>
<circle cx="619.6" cy="1985.0" r="9.0" fill="#03B7CC"/>
<circle cx="672.1" cy="1922.8" r="9.0" fill="#2EC4A4"/>
<circle cx="779.8" cy="1871.5" r="9.0" fill="#2EC4A4"/>
<circle cx="637.6" cy="1932.9" r="9.0" fill="#65CD6E"/>
<circle cx="629.3" cy="1935.2" r="9.0" fill="#65CD6E"/>
<circle cx="683.7" cy="1934.1" r="9.0" fill="#65CD6E"/>
<circle cx="633.8" cy="1991.2" r="9.0" fill="#65CD6E"/>
<circle cx="795.2" cy="1945.4" r="9.0" fill="#65CD6E"/>
<circle cx="300.1" cy="1945.2" r="9.0" fill="#3E26A8"/>
<circle cx="271.5" cy="1871.5" r="9.0" fill="#4740E3"/>
<circle cx="285.1" cy="1879.2" r="9.0" fill="#4740E3"/>
<circle cx="236.0" cy="1887.6" r="9.0" fill="#4740E3"/>
<circle cx="244.1" cy="1895.0" r="9.0" fill="#4740E3"/>
<circle cx="251.5" cy="1901.2" r="9.0" fill="#4740E3"/>
<circle cx="264.8" cy="1902.6" r="9.0" fill="#4740E3"/>
<circle cx="255.7" cy="1927.7" r="9.0" fill="#4740E3"/>
<circle cx="236.0" cy="1938.9" r="9.0" fill="#4740E3"/>
<circle cx="258.5" cy="1940.3" r="9.0" fill="#4740E3"/>
<circle cx="275.0" cy="1934.4" r="9.0" fill="#4740E3"/>
<circle cx="240.0" cy="1950.1" r="9.0" fill="#4740E3"/>
<circle cx="257.1" cy="1962.8" r="9.0" fill="#4740E3"/>
<circle cx="264.8" cy="1970.5" r="9.0" fill="#4740E3"/>
<circle cx="271.8" cy="1957.9" r="9.0" fill="#4740E3"/>
<circle cx="286.5" cy="1962.1" r="9.0" fill="#4740E3"/>
<circle cx="310.8" cy="1973.7" r="9.0" fill="#4740E3"/>
<circle cx="247.3" cy="1987.3" r="9.0" fill="#4740E3"/>
<circle cx="286.3" cy="1985.9" r="9.0" fill="#4740E3"/>
<circle cx="293.1" cy="1817.2" r="9.0" fill="#4660FC"/>
<circle cx="257.8" cy="1849.8" r="9.0" fill="#4660FC"/>
<circle cx="299.9" cy="1860.3" r="9.0" fill="#4660FC"/>
<circle cx="307.6" cy="1856.1" r="9.0" fill="#4660FC"/>
<circle cx="314.6" cy="1863.8" r="9.0" fill="#4660FC"/>
<circle cx="310.4" cy="1870.8" r="9.0" fill="#4660FC"/>
<circle cx="302.7" cy="1883.4" r="9.0" fill="#4660FC"/>
<circle cx="290.7" cy="1889.4" r="9.0" fill="#4660FC"/>
<circle cx="299.2" cy="1893.3" r="9.0" fill="#4660FC"/>
<circle cx="325.1" cy="1891.0" r="9.0" fill="#4660FC"/>
<circle cx="292.9" cy="1903.1" r="9.0" fill="#4660FC"/>
<circle cx="303.4" cy="1914.4" r="9.0" fill="#4660FC"/>
<circle cx="325.1" cy="1915.1" r="9.0" fill="#4660FC"/>
<circle cx="291.4" cy="1923.5" r="9.0" fill="#4660FC"/>
<circle cx="313.9" cy="1929.1" r="9.0" fill="#4660FC"/>
<circle cx="335.9" cy="1783.6" r="9.0" fill="#2F82F9"/>
<circle cx="293.1" cy="1833.6" r="9.0" fill="#2F82F9"/>
<circle cx="285.8" cy="1850.5" r="9.0" fill="#2F82F9"/>
<circle cx="342.7" cy="1877.1" r="9.0" fill="#2F82F9"/>
<circle cx="299.2" cy="1926.3" r="9.0" fill="#2F82F9"/>
<circle cx="346.2" cy="1933.2" r="9.0" fill="#2F82F9"/>
<circle cx="406.6" cy="1834.6" r="9.0" fill="#2F82F9"/>
<circle cx="474.0" cy="1838.2" r="9.0" fill="#2F82F9"/>
<circle cx="367.6" cy="1864.1" r="9.0" fill="#2F82F9"/>
<circle cx="377.9" cy="1898.7" r="9.0" fill="#2F82F9"/>
<circle cx="396.1" cy="1891.7" r="9.0" fill="#2F82F9"/>
<circle cx="410.1" cy="1895.2" r="9.0" fill="#2F82F9"/>
<circle cx="396.1" cy="1902.2" r="9.0" fill="#2F82F9"/>
<circle cx="367.4" cy="1910.6" r="9.0" fill="#2F82F9"/>
<circle cx="380.7" cy="1912.0" r="9.0" fill="#2F82F9"/>
<circle cx="438.2" cy="1904.3" r="9.0" fill="#2F82F9"/>
<circle cx="396.1" cy="1929.0" r="9.0" fill="#2F82F9"/>
<circle cx="364.5" cy="1936.5" r="9.0" fill="#2F82F9"/>
<circle cx="356.3" cy="1935.6" r="9.0" fill="#23A0E5"/>
<circle cx="286.3" cy="2013.9" r="9.0" fill="#23A0E5"/>
<circle cx="328.7" cy="2054.9" r="9.0" fill="#23A0E5"/>
<circle cx="403.1" cy="1816.7" r="9.0" fill="#23A0E5"/>
<circle cx="399.6" cy="1878.7" r="9.0" fill="#23A0E5"/>
<circle cx="427.7" cy="1878.1" r="9.0" fill="#23A0E5"/>
<circle cx="438.9" cy="1869.3" r="9.0" fill="#23A0E5"/>
<circle cx="449.4" cy="1869.7" r="9.0" fill="#23A0E5"/>
<circle cx="463.4" cy="1872.6" r="9.0" fill="#23A0E5"/>
<circle cx="456.1" cy="1888.2" r="9.0" fill="#23A0E5"/>
<circle cx="452.9" cy="1910.6" r="9.0" fill="#23A0E5"/>
<circle cx="464.8" cy="1907.1" r="9.0" fill="#23A0E5"/>
<circle cx="470.0" cy="1908.0" r="9.0" fill="#23A0E5"/>
<circle cx="470.7" cy="1925.8" r="9.0" fill="#23A0E5"/>
<circle cx="364.5" cy="1954.0" r="9.0" fill="#23A0E5"/>
<circle cx="498.8" cy="1834.5" r="9.0" fill="#23A0E5"/>
<circle cx="584.2" cy="1868.3" r="9.0" fill="#23A0E5"/>
<circle cx="505.9" cy="1920.6" r="9.0" fill="#23A0E5"/>
<circle cx="353.2" cy="1902.4" r="9.0" fill="#03B7CC"/>
<circle cx="378.6" cy="1942.5" r="9.0" fill="#03B7CC"/>
<circle cx="563.0" cy="1892.4" r="9.0" fill="#03B7CC"/>
<circle cx="498.8" cy="1902.6" r="9.0" fill="#03B7CC"/>
<circle cx="520.3" cy="1911.6" r="9.0" fill="#03B7CC"/>
<circle cx="537.9" cy="1912.4" r="9.0" fill="#03B7CC"/>
<circle cx="552.2" cy="1911.2" r="9.0" fill="#03B7CC"/>
<circle cx="563.0" cy="1943.9" r="9.0" fill="#03B7CC"/>
<circle cx="683.7" cy="1865.8" r="9.0" fill="#03B7CC"/>
<circle cx="665.8" cy="1894.3" r="9.0" fill="#03B7CC"/>
<circle cx="628.6" cy="1926.1" r="9.0" fill="#03B7CC"/>
<circle cx="630.5" cy="1931.8" r="9.0" fill="#03B7CC"/>
<circle cx="630.1" cy="1949.9" r="9.0" fill="#03B7CC"/>
<circle cx="534.6" cy="1878.4" r="9.0" fill="#2EC4A4"/>
<circle cx="569.9" cy="1879.3" r="9.0" fill="#2EC4A4"/>
<circle cx="605.4" cy="1885.6" r="9.0" fill="#2EC4A4"/>
<circle cx="563.0" cy="1906.7" r="9.0" fill="#2EC4A4"/>
<circle cx="608.8" cy="1955.2" r="9.0" fill="#2EC4A4"/>
<circle cx="690.6" cy="1752.2" r="9.0" fill="#2EC4A4"/>
<circle cx="722.6" cy="1831.5" r="9.0" fill="#2EC4A4"/>
<circle cx="640.9" cy="1878.0" r="9.0" fill="#2EC4A4"/>
<circle cx="626.8" cy="1892.3" r="9.0" fill="#2EC4A4"/>
<circle cx="648.1" cy="1901.3" r="9.0" fill="#2EC4A4"/>
<circle cx="654.9" cy="1915.6" r="9.0" fill="#2EC4A4"/>
<circle cx="615.8" cy="1966.7" r="9.0" fill="#2EC4A4"/>
<circle cx="623.3" cy="1968.2" r="9.0" fill="#2EC4A4"/>
<circle cx="633.8" cy="2043.5" r="9.0" fill="#2EC4A4"/>
<circle cx="555.2" cy="1866.1" r="9.0" fill="#65CD6E"/>
<circle cx="520.3" cy="1974.0" r="9.0" fill="#65CD6E"/>
<circle cx="690.6" cy="1795.8" r="9.0" fill="#65CD6E"/>
<circle cx="676.4" cy="1814.2" r="9.0" fill="#65CD6E"/>
<circle cx="701.5" cy="1876.2" r="9.0" fill="#65CD6E"/>
<circle cx="729.6" cy="1868.4" r="9.0" fill="#65CD6E"/>
<circle cx="623.3" cy="1898.3" r="9.0" fill="#65CD6E"/>
<circle cx="619.5" cy="1921.9" r="9.0" fill="#65CD6E"/>
<circle cx="694.2" cy="1908.5" r="9.0" fill="#65CD6E"/>
<circle cx="715.4" cy="1919.8" r="9.0" fill="#65CD6E"/>
<circle cx="726.1" cy="1905.7" r="9.0" fill="#65CD6E"/>
<circle cx="754.5" cy="1895.7" r="9.0" fill="#65CD6E"/>
<circle cx="775.8" cy="1878.1" r="9.0" fill="#65CD6E"/>
<circle cx="758.0" cy="2005.2" r="9.0" fill="#65CD6E"/>
<circle cx="577.0" cy="1968.5" r="9.0" fill="#B6C532"/>
<circle cx="580.7" cy="1974.2" r="9.0" fill="#B6C532"/>
<circle cx="680.1" cy="1927.9" r="9.0" fill="#B6C532"/>
<circle cx="712.0" cy="1944.9" r="9.0" fill="#B6C532"/>
<circle cx="615.5" cy="1980.0" r="9.0" fill="#B6C532"/>
<circle cx="633.8" cy="1979.5" r="9.0" fill="#B6C532"/>
<circle cx="612.4" cy="1989.7" r="9.0" fill="#B6C532"/>
<circle cx="662.9" cy="1982.0" r="9.0" fill="#B6C532"/>
<circle cx="658.5" cy="2002.0" r="9.0" fill="#B6C532"/>
<circle cx="789.9" cy="1849.4" r="9.0" fill="#B6C532"/>
<circle cx="789.9" cy="1932.6" r="9.0" fill="#B6C532"/>
<circle cx="591.0" cy="1883.4" r="9.0" fill="#F4BA3A"/>
<circle cx="541.7" cy="1920.9" r="9.0" fill="#F4BA3A"/>
<circle cx="598.5" cy="1934.2" r="9.0" fill="#F4BA3A"/>
<circle cx="577.0" cy="1942.7" r="9.0" fill="#F4BA3A"/>
<circle cx="539.7" cy="1946.5" r="9.0" fill="#F4BA3A"/>
<circle cx="553.7" cy="1958.6" r="9.0" fill="#F4BA3A"/>
<circle cx="541.7" cy="1961.7" r="9.0" fill="#F4BA3A"/>
<circle cx="541.7" cy="1970.8" r="9.0" fill="#F4BA3A"/>
<circle cx="364.3" cy="1900.1" r="9.0" fill="#F9D82C"/>
<circle cx="442.8" cy="1918.3" r="9.0" fill="#F9D82C"/>
<circle cx="360.8" cy="1963.1" r="9.0" fill="#F9D82C"/>
<circle cx="428.1" cy="1943.5" r="9.0" fill="#F9D82C"/>
<circle cx="452.9" cy="1948.1" r="9.0" fill="#F9D82C"/>
<circle cx="284.9" cy="1918.6" r="9.0" fill="#FCFC14"/>
<circle cx="250.8" cy="1936.8" r="9.0" fill="#FCFC14"/>
<circle cx="328.6" cy="1934.0" r="9.0" fill="#FCFC14"/>
<circle cx="327.2" cy="1945.9" r="9.0" fill="#FCFC14"/>
<circle cx="335.9" cy="1946.1" r="9.0" fill="#FCFC14"/>
<circle cx="350.6" cy="1954.5" r="9.0" fill="#FCFC14"/>
<circle cx="310.8" cy="1957.6" r="9.0" fill="#FCFC14"/>
<circle cx="420.9" cy="1907.8" r="9.0" fill="#FCFC14"/>
<circle cx="381.7" cy="1925.0" r="9.0" fill="#FCFC14"/>
<circle cx="563.0" cy="1858.1" r="9.0" fill="#03B7CC"/>
<path d="M177.5 1927.2 L193.5 1926.6 L209.6 1926.0 L225.6 1925.4 L241.6 1924.8 L257.6 1924.2 L273.6 1923.6 L289.7 1922.9 L305.7 1922.3 L321.7 1921.6 L337.8 1920.9 L353.8 1920.2 L369.8 1919.5 L385.8 1918.7 L401.9 1918.0 L417.9 1917.2 L433.9 1916.5 L449.9 1915.7 L465.9 1914.9 L482.0 1914.1 L498.0 1913.3 L514.0 1912.4 L530.0 1911.6 L546.1 1910.7 L562.1 1909.8 L578.1 1908.9 L594.1 1908.0 L610.2 1907.1 L626.2 1906.2 L642.2 1905.2 L658.2 1904.3 L674.3 1903.3 L690.3 1902.3 L706.3 1901.3 L722.4 1900.3 L738.4 1899.3 L754.4 1898.2 L770.4 1897.2 L786.5 1896.1 L802.5 1895.0 L818.5 1893.9" fill="none" stroke="#f00" stroke-width="4.2" clip-path="url(#cp3)"/>
<path d="M177.5 2019.3 L193.5 2015.6 L209.6 2011.9 L225.6 2008.1 L241.6 2004.3 L257.6 2000.4 L273.6 1996.5 L289.7 1992.5 L305.7 1988.5 L321.7 1984.4 L337.8 1980.2 L353.8 1976.0 L369.8 1971.8 L385.8 1967.5 L401.9 1963.1 L417.9 1958.7 L433.9 1954.3 L449.9 1949.8 L465.9 1945.2 L482.0 1940.6 L498.0 1935.9 L514.0 1931.2 L530.0 1926.4 L546.1 1921.6 L562.1 1916.7 L578.1 1911.8 L594.1 1906.8 L610.2 1901.7 L626.2 1896.7 L642.2 1891.5 L658.2 1886.3 L674.3 1881.1 L690.3 1875.8 L706.3 1870.4 L722.4 1865.0 L738.4 1859.5 L754.4 1854.0 L770.4 1848.5 L786.5 1842.8 L802.5 1837.2 L818.5 1831.4" fill="none" stroke="#000" stroke-width="4.2" clip-path="url(#cp3)"/>
<rect x="178.5" y="1620.0" width="639.1" height="490.3" fill="none" stroke="#000" stroke-width="1.8"/>
<path d="M231.8 1620.0 v10.8 M231.8 2110.3 v-10.8" stroke="#000" stroke-width="1.8"/>
<path d="M409.3 1620.0 v10.8 M409.3 2110.3 v-10.8" stroke="#000" stroke-width="1.8"/>
<path d="M586.8 1620.0 v10.8 M586.8 2110.3 v-10.8" stroke="#000" stroke-width="1.8"/>
<path d="M764.3 1620.0 v10.8 M764.3 2110.3 v-10.8" stroke="#000" stroke-width="1.8"/>
<text x="226.8" y="2166.0" font-size="35" text-anchor="middle">10</text>
<text x="404.3" y="2166.0" font-size="35" text-anchor="middle">15</text>
<text x="581.8" y="2166.0" font-size="35" text-anchor="middle">20</text>
<text x="759.3" y="2166.0" font-size="35" text-anchor="middle">25</text>
<path d="M178.5 2061.3 h10.8 M817.6 2061.3 h-10.8" stroke="#000" stroke-width="1.8"/>
<text x="159.3" y="2076.3" font-size="34.6" text-anchor="end">1.0</text>
<path d="M178.5 1963.2 h10.8 M817.6 1963.2 h-10.8" stroke="#000" stroke-width="1.8"/>
<text x="159.3" y="1977.2" font-size="34.6" text-anchor="end">2.0</text>
<path d="M178.5 1865.2 h10.8 M817.6 1865.2 h-10.8" stroke="#000" stroke-width="1.8"/>
<text x="159.3" y="1878.1" font-size="34.6" text-anchor="end">3.0</text>
<path d="M178.5 1767.1 h10.8 M817.6 1767.1 h-10.8" stroke="#000" stroke-width="1.8"/>
<text x="159.3" y="1779.0" font-size="34.6" text-anchor="end">4.0</text>
<path d="M178.5 1669.0 h10.8 M817.6 1669.0 h-10.8" stroke="#000" stroke-width="1.8"/>
<text x="159.3" y="1679.9" font-size="34.6" text-anchor="end">5.0</text>
<text x="203" y="1660.4" font-size="29" font-weight="bold">D</text>
<rect x="844.5" y="2070.04" width="40.299999999999955" height="41.46" fill="#3E26A8"/>
<rect x="844.5" y="2029.18" width="40.299999999999955" height="41.46" fill="#4740E3"/>
<rect x="844.5" y="1988.33" width="40.299999999999955" height="41.46" fill="#4660FC"/>
<rect x="844.5" y="1947.47" width="40.299999999999955" height="41.46" fill="#2F82F9"/>
<rect x="844.5" y="1906.61" width="40.299999999999955" height="41.46" fill="#23A0E5"/>
<rect x="844.5" y="1865.75" width="40.299999999999955" height="41.46" fill="#03B7CC"/>
<rect x="844.5" y="1824.89" width="40.299999999999955" height="41.46" fill="#2EC4A4"/>
<rect x="844.5" y="1784.03" width="40.299999999999955" height="41.46" fill="#65CD6E"/>
<rect x="844.5" y="1743.18" width="40.299999999999955" height="41.46" fill="#B6C532"/>
<rect x="844.5" y="1702.32" width="40.299999999999955" height="41.46" fill="#F4BA3A"/>
<rect x="844.5" y="1661.46" width="40.299999999999955" height="41.46" fill="#F9D82C"/>
<rect x="844.5" y="1620.00" width="40.299999999999955" height="41.46" fill="#FCFC14"/>
<rect x="844.5" y="1620.0" width="40.299999999999955" height="490.3" fill="none" stroke="#000" stroke-width="2.3"/>
<path d="M884.8 2069.4 h-11.4" stroke="#000" stroke-width="1.8"/>
<text x="913.5" y="2081.1" font-size="35" text-anchor="middle">2</text>
<path d="M884.8 1987.7 h-11.4" stroke="#000" stroke-width="1.8"/>
<text x="913.5" y="1999.4" font-size="35" text-anchor="middle">4</text>
<path d="M884.8 1906.0 h-11.4" stroke="#000" stroke-width="1.8"/>
<text x="913.5" y="1917.7" font-size="35" text-anchor="middle">6</text>
<path d="M884.8 1824.3 h-11.4" stroke="#000" stroke-width="1.8"/>
<text x="913.5" y="1836.0" font-size="35" text-anchor="middle">8</text>
<path d="M884.8 1742.6 h-11.4" stroke="#000" stroke-width="1.8"/>
<text x="913.5" y="1754.3" font-size="35" text-anchor="middle">10</text>
<path d="M884.8 1660.9 h-11.4" stroke="#000" stroke-width="1.8"/>
<text x="913.5" y="1672.6" font-size="35" text-anchor="middle">12</text>
<text transform="translate(991.7,1878.8) rotate(-90)" font-size="38.5" text-anchor="middle">Month</text>
</g>
<text transform="translate(36,257.1) rotate(-90)" font-size="38.5" text-anchor="middle">pCO<tspan font-size="23.5" dy="12">2</tspan><tspan dy="-12"> (µatm)</tspan></text>
<text transform="translate(42.7,796.9) rotate(-90)" font-size="38.5" text-anchor="middle">pH</text>
<text transform="translate(34.8,1339.2) rotate(-90)" font-size="38.5" text-anchor="middle">C<tspan font-size="23.5" dy="12">T</tspan><tspan dy="-12"> (µmol kg</tspan><tspan font-size="23.5" dy="-13">-1</tspan><tspan dy="13">)</tspan></text>
<text transform="translate(37.7,1862.0) rotate(-90)" font-size="38.5" text-anchor="middle"><tspan font-family="Liberation Serif, serif" font-size="40">Ω</tspan><tspan font-size="23.5" dy="12">arag</tspan></text>
<text x="503.5" y="2234.5" font-size="38.5" text-anchor="middle">Temperature (<tspan font-size="23" dy="-10">o</tspan><tspan dy="10">C)</tspan></text>
<path d="M261 67.8 h64" stroke="#f00" stroke-width="3.6"/><path d="M261 118.2 h64" stroke="#000" stroke-width="3.6"/>
<text x="348.6" y="79.7" font-size="34.3">Closed</text><text x="348" y="130" font-size="34.3">Equilibrated</text>
<circle cx="597.6" cy="68.3" r="9.5" fill="none" stroke="#000" stroke-width="1.8"/>
<text x="623.6" y="79.5" font-size="34.3">In situ</text>
</svg></body></html>
